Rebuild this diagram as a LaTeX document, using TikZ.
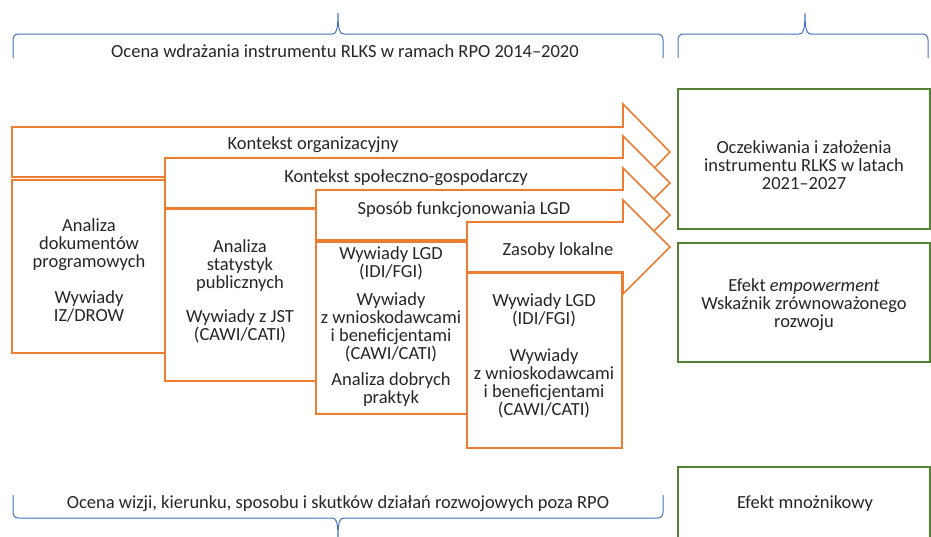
\documentclass[tikz,border=0pt]{standalone}
\usepackage{fontspec}
\setmainfont{Carlito}
\definecolor{rlksorange}{RGB}{237,125,49}
\definecolor{rlksgreen}{RGB}{84,130,53}
\definecolor{rlksblue}{RGB}{68,114,196}
\begin{document}
\begin{tikzpicture}[x=1pt,y=-1pt,
  flow/.style={draw=rlksorange, line width=1.6pt, fill=white, line join=miter},
  method/.style={draw=rlksorange, line width=1.6pt, fill=white},
  outcome/.style={draw=rlksgreen, line width=1.3pt},
  brace/.style={draw=rlksblue, line width=1pt},
  txt/.style={font=\fontsize{18.5}{18}\selectfont, align=center, inner sep=0pt, text=black!85}]
\useasboundingbox (0,0) rectangle (931,536);

% braces
\draw[brace] (13,58) -- (13,40) .. controls (13,36) and (15,34) .. (19,34)
  -- (332,34) .. controls (336,34) and (338,31) .. (338,13)
  .. controls (338,31) and (340,34) .. (344,34)
  -- (657,34) .. controls (661,34) and (663,36) .. (663,40) -- (663,58);
\draw[brace] (678,58) -- (678,40) .. controls (678,36) and (680,34) .. (684,34)
  -- (799,34) .. controls (803,34) and (805,31) .. (805,13)
  .. controls (805,31) and (807,34) .. (811,34)
  -- (922,34) .. controls (926,34) and (928,36) .. (928,40) -- (928,58);
\draw[brace] (13,495) -- (13,512) .. controls (13,516) and (15,518) .. (19,518)
  -- (332,518) .. controls (336,518) and (338,521) .. (338,538)
  .. controls (338,521) and (340,518) .. (344,518)
  -- (657,518) .. controls (661,518) and (663,516) .. (663,512) -- (663,495);

\node[txt] (tophead) at (345,51) {Ocena wdrażania instrumentu RLKS w ramach RPO 2014–2020};
\node[txt] (bothead) at (338,504) {Ocena wizji, kierunku, sposobu i skutków działań rozwojowych poza RPO};

% stacked context arrows with the method boxes beneath them
\path[flow] (12,127) -- (623,127) -- (623,104) -- (670,152) -- (623,200) -- (623,177) -- (12,177) -- cycle;
\path[method] (12,180) rectangle (165,353);
\path[flow] (165,158) -- (623,158) -- (623,136) -- (670,183) -- (623,230) -- (623,208) -- (165,208) -- cycle;
\path[method] (165,209) rectangle (316,381);
\path[flow] (316,190) -- (623,190) -- (623,168) -- (670,215) -- (623,262) -- (623,240) -- (316,240) -- cycle;
\path[method] (316,242) rectangle (467,414);
\path[flow] (467,222) -- (623,222) -- (623,200) -- (670,247) -- (623,294) -- (623,272) -- (467,272) -- cycle;
\path[method] (467,273) rectangle (622,448);

\node[txt] (ctx1) at (313,145) {Kontekst organizacyjny};
\node[txt] (ctx2) at (406,178) {Kontekst społeczno-gospodarczy};
\node[txt] (ctx3) at (464,210) {Sposób funkcjonowania LGD};
\node[txt] (ctx4) at (558,251) {Zasoby lokalne};

\node[txt] (boxa) at (89,270) {Analiza\\dokumentów\\programowych\\[18pt]Wywiady\\IZ/DROW};
\node[txt] (boxb) at (240,291) {Analiza\\statystyk\\publicznych\\[16pt]Wywiady z JST\\(CAWI/CATI)};
\node[txt] (boxc) at (391,327) {Wywiady LGD\\(IDI/FGI)\\[10pt]Wywiady\\z wnioskodawcami\\i beneficjentami\\(CAWI/CATI)\\[8pt]Analiza dobrych\\praktyk};
\node[txt] (boxd) at (544,356) {Wywiady LGD\\(IDI/FGI)\\[19pt]Wywiady\\z wnioskodawcami\\i beneficjentami\\(CAWI/CATI)};

% expected outcomes
\draw[outcome] (678,89) rectangle (930,229);
\draw[outcome] (678,243) rectangle (930,362);
\draw[outcome] (678,467) rectangle (930,545);
\node[txt] (out1) at (804,165) {Oczekiwania i założenia\\instrumentu RLKS w latach\\2021–2027};
\node[txt] (out2) at (804,305) {Efekt \emph{empowerment}\\Wskaźnik zrównoważonego\\rozwoju};
\node[txt] (out3) at (805,504) {Efekt mnożnikowy};
\end{tikzpicture}
\end{document}
